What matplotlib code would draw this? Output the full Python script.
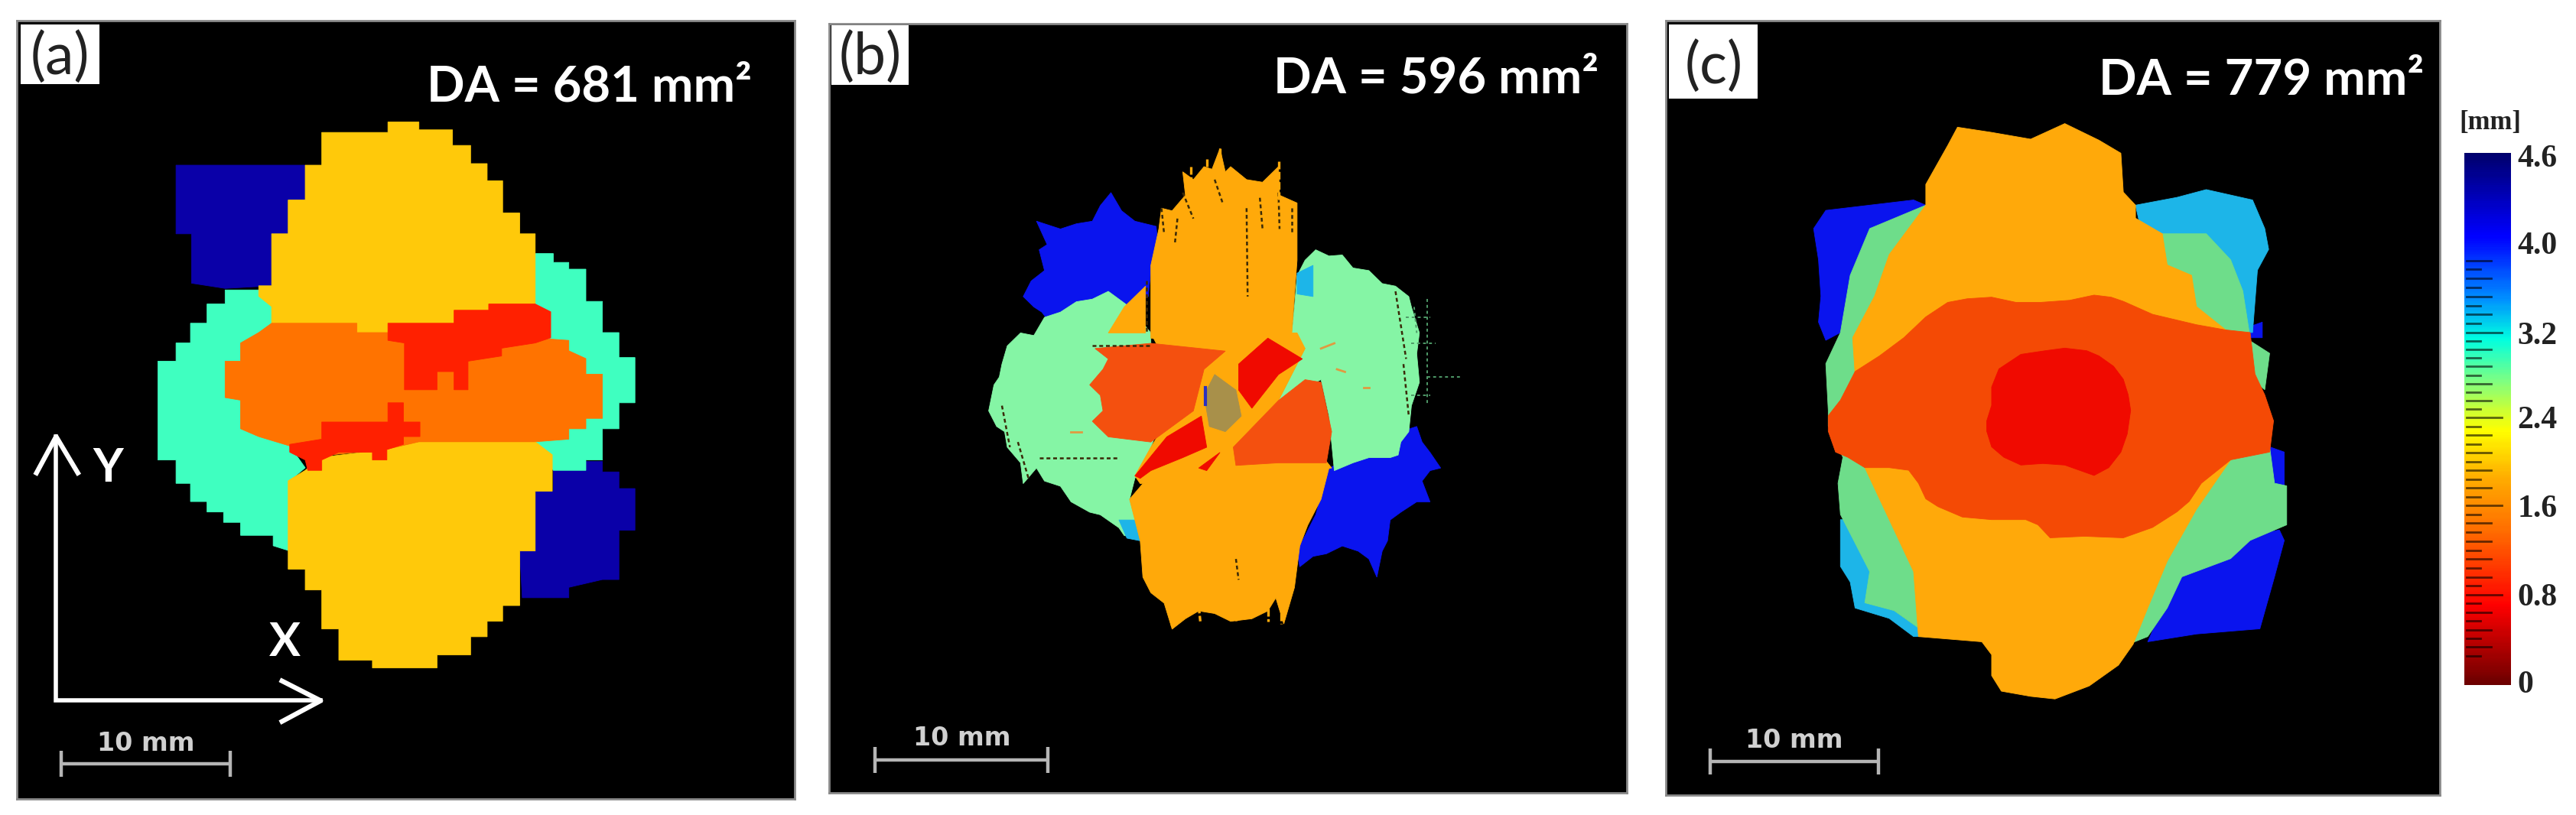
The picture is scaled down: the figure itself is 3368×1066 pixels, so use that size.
import numpy as np
import matplotlib
matplotlib.use('Agg')
import matplotlib.pyplot as plt
from matplotlib.colors import LinearSegmentedColormap

W, H = 3368, 1066

YELLOW = '#ffc90a'
MINT = '#3fffc0'
NAVY = '#0a00a8'
ORANGE_A = '#ff7300'
RED_A = '#ff2000'
ORANGE = '#ffa90a'
GREEN_B = '#85f5a5'
BLUE = '#0a14ee'
ORANGE_RED = '#f4500f'
RED = '#f00a00'
CYAN = '#1db5e8'
GREEN_C = '#6edd8a'

# panel (a)
a_blue_top = [(340, 318), (590, 318), (590, 385), (557, 385), (557, 450), (525, 450), (525, 550), (435, 555),
              (370, 545), (370, 450), (340, 450)]
a_blue_bot = [(1070, 905), (1133, 905), (1133, 888), (1165, 888), (1165, 908), (1197, 908), (1197, 940), (1228, 940),
              (1228, 1020), (1197, 1020), (1197, 1115), (1165, 1115), (1100, 1130), (1100, 1150), (1010, 1150),
              (1005, 1060), (1035, 1060), (1035, 945), (1070, 945)]
a_mint_left = [(435, 558), (505, 558), (525, 590), (560, 640), (560, 858), (590, 900), (560, 925), (560, 1060),
               (528, 1050), (528, 1030), (465, 1030), (465, 1005), (432, 1005), (432, 985), (400, 985), (400, 965),
               (368, 965), (368, 930), (340, 930), (340, 885), (305, 885), (305, 695), (340, 695), (340, 660),
               (368, 660), (368, 622), (400, 622), (400, 585), (435, 585)]
a_mint_right = [(1035, 488), (1070, 488), (1070, 505), (1100, 505), (1100, 518), (1133, 518), (1133, 580), (1165, 580),
                (1165, 640), (1197, 640), (1197, 688), (1228, 688), (1228, 775), (1197, 775), (1197, 825), (1165, 825),
                (1165, 885), (1133, 885), (1133, 905), (1070, 905), (1035, 850), (1000, 600)]
a_yellow_top = [(750, 235), (810, 235), (810, 250), (875, 250), (875, 280), (910, 280), (910, 315), (942, 315),
                (942, 348), (972, 348), (972, 410), (1005, 410), (1005, 450), (1035, 450), (1035, 620), (750, 660),
                (690, 640), (525, 640), (525, 590), (500, 570), (500, 550), (525, 550), (525, 450), (557, 450),
                (557, 385), (590, 385), (590, 318), (622, 318), (622, 255), (750, 255)]
a_yellow_bot = [(590, 905), (620, 880), (745, 865), (810, 850), (1035, 850), (1068, 875), (1068, 945), (1035, 945),
                (1035, 1060), (1005, 1060), (1005, 1165), (972, 1165), (972, 1195), (942, 1195), (942, 1225),
                (910, 1225), (910, 1260), (845, 1260), (845, 1285), (720, 1285), (720, 1270), (655, 1270), (655, 1210),
                (622, 1210), (622, 1135), (590, 1135), (590, 1095), (557, 1095), (557, 925)]
a_orange = [(525, 622), (690, 622), (690, 640), (880, 640), (1100, 655), (1100, 675), (1133, 690), (1133, 720),
            (1165, 720), (1165, 805), (1133, 805), (1133, 825), (1100, 825), (1100, 845), (1035, 850), (810, 850),
            (745, 865), (590, 880), (560, 858), (500, 840), (465, 825), (465, 770), (435, 765), (435, 695), (465, 695),
            (465, 660), (500, 640)]
a_red_top = [(750, 622), (878, 622), (878, 597), (945, 597), (945, 585), (1035, 585), (1065, 600), (1065, 650),
             (1035, 660), (970, 670), (970, 685), (905, 695), (905, 750), (878, 750), (878, 715), (845, 715),
             (845, 750), (782, 750), (782, 660), (750, 655)]
a_red_bot = [(750, 775), (780, 775), (780, 812), (812, 812), (812, 840), (780, 840), (780, 855), (748, 865), (748, 885),
             (720, 885), (720, 870), (655, 870), (622, 885), (622, 905), (595, 905), (590, 885), (560, 870), (560, 855),
             (622, 845), (622, 812), (750, 812)]

# panel (b)
b_blue_top = [(400, 570), (415, 540), (440, 520), (430, 480), (445, 470), (425, 425), (470, 440), (500, 430), (530, 425),
              (545, 395), (565, 370), (585, 405), (610, 425), (650, 435), (655, 490), (640, 520), (635, 570), (600, 590),
              (540, 590), (480, 600), (465, 615), (450, 620), (435, 600), (420, 590)]
b_blue_bot = [(1110, 830), (1140, 820), (1150, 850), (1165, 870), (1185, 900), (1165, 905), (1150, 925), (1165, 965),
              (1140, 965), (1110, 985), (1090, 1000), (1085, 1040), (1075, 1060), (1065, 1110), (1050, 1075), (1030, 1060),
              (1000, 1050), (970, 1065), (945, 1070), (920, 1090), (915, 1060), (950, 990), (975, 900), (1020, 880), (1090, 880)]
b_mint_left = [(335, 790), (345, 740), (355, 725), (360, 700), (370, 665), (395, 640), (420, 645), (440, 610), (470, 600),
               (500, 580), (530, 575), (560, 560), (600, 590), (640, 640), (640, 660), (700, 700), (640, 860), (610, 920),
               (600, 960), (620, 1035), (590, 1030), (580, 1015), (545, 990), (525, 985), (490, 965), (470, 935), (440, 925),
               (425, 900), (400, 930), (395, 890), (370, 860), (365, 830), (350, 820)]
b_mint_right = [(915, 530), (930, 500), (950, 480), (975, 492), (1000, 490), (1020, 515), (1050, 520), (1075, 545),
                (1100, 550), (1125, 570), (1130, 590), (1145, 640), (1140, 680), (1145, 735), (1130, 780), (1125, 830),
                (1110, 850), (1105, 875), (1090, 880), (1050, 880), (1020, 890), (985, 905), (975, 800), (960, 730),
                (880, 770), (930, 670), (905, 640), (910, 590)]
b_cyan_top = [(915, 525), (945, 510), (945, 570), (915, 565)]
b_cyan_bot = [(580, 1000), (620, 1000), (620, 1040), (595, 1035)]
b_orange_core = [(640, 640), (915, 640), (930, 670), (880, 770), (980, 900), (620, 930), (610, 915), (640, 860), (700, 760)]
b_orange_top = [(700, 330), (720, 345), (740, 320), (755, 325), (770, 285), (780, 330), (790, 320), (820, 345), (850, 350),
                (880, 320), (882, 375), (915, 390), (915, 500), (905, 640), (870, 665), (780, 675), (640, 650), (640, 510),
                (655, 440), (660, 400), (680, 405), (705, 375)]
b_orange_side = [(560, 640), (590, 590), (630, 550), (630, 640)]
b_orange_bot = [(625, 930), (750, 900), (880, 890), (975, 900), (960, 960), (935, 1010), (920, 1050), (910, 1130), (890, 1200),
                (875, 1150), (860, 1175), (830, 1190), (790, 1195), (760, 1180), (730, 1175), (705, 1190), (680, 1210),
                (665, 1160), (640, 1140), (625, 1110), (620, 1040), (600, 960)]
b_orangered_left = [(535, 670), (640, 660), (780, 675), (740, 710), (720, 790), (640, 850), (560, 840), (530, 810), (550, 790),
                    (545, 760), (525, 740), (550, 710), (560, 690)]
b_orangered_right = [(795, 860), (880, 770), (930, 730), (960, 735), (980, 830), (970, 890), (880, 890), (800, 895)]
b_red_top = [(805, 700), (860, 650), (925, 690), (880, 720), (830, 785), (805, 750)]
b_red_bot = [(610, 915), (670, 840), (735, 800), (745, 860), (700, 880), (640, 905), (620, 920)]
b_red_small = [(730, 900), (770, 870), (745, 905)]
b_center = [(740, 760), (760, 720), (800, 750), (810, 800), (780, 830), (750, 820)]
b_dark_streaks = [((660, 400), (665, 450)), ((690, 420), (685, 470)), ((820, 400), (822, 570)), ((845, 380), (850, 440)),
                  ((880, 370), (882, 440)), ((905, 400), (905, 450)), ((632, 540), (632, 640)), ((530, 665), (640, 665)),
                  ((430, 880), (580, 880)), ((800, 1075), (805, 1115)), ((360, 780), (375, 860)), ((390, 850), (410, 920)),
                  ((1100, 560), (1120, 690)), ((1115, 700), (1125, 800)), ((700, 370), (720, 420)), ((760, 345), (775, 390))]
b_orange_streaks = [((770, 285), (770, 340)), ((745, 305), (745, 345)), ((715, 320), (715, 370)), ((880, 310), (880, 390)),
                    ((680, 1150), (680, 1208)), ((885, 1120), (885, 1200)), ((655, 1110), (660, 1150)), ((730, 1165), (733, 1195)),
                    ((800, 1180), (800, 1198)), ((860, 1170), (860, 1195))]
b_mint_streaks = [((1160, 575), (1160, 780)), ((1160, 725), (1225, 725)), ((1135, 590), (1140, 640)), ((1130, 660), (1175, 660)),
                  ((1130, 760), (1165, 760)), ((1120, 610), (1165, 610))]
b_orange_flecks = [((490, 830), (510, 830)), ((990, 710), (1005, 715)), ((1040, 745), (1050, 745)), ((960, 670), (985, 660))]

# panel (c)
c_blue_top = [(315, 440), (340, 405), (430, 395), (520, 385), (545, 395), (430, 440), (390, 530), (370, 640), (340, 655),
              (325, 620), (330, 570), (325, 500)]
c_blue_right1 = [(1205, 630), (1235, 620), (1235, 650), (1205, 650)]
c_blue_right2 = [(1250, 860), (1280, 870), (1280, 935), (1250, 935)]
c_blue_bot = [(1270, 1020), (1280, 1040), (1260, 1110), (1230, 1210), (1100, 1220), (1000, 1235), (1040, 1150), (1070, 1100),
              (1170, 1060), (1210, 1030)]
c_cyan_top = [(975, 395), (1060, 380), (1120, 365), (1215, 385), (1240, 440), (1248, 480), (1225, 520), (1215, 640), (1100, 640),
              (1000, 500)]
c_cyan_bot = [(370, 1000), (450, 1000), (450, 1160), (480, 1175), (555, 1225), (520, 1225), (470, 1190), (400, 1170),
              (390, 1120), (370, 1090)]
c_green_left = [(430, 440), (545, 395), (560, 400), (470, 600), (450, 720), (345, 820), (345, 790), (340, 700), (370, 640),
                (390, 530)]
c_green_top = [(1030, 450), (1120, 450), (1170, 500), (1195, 560), (1210, 650), (1100, 650), (1000, 500)]
c_green_small = [(1200, 650), (1250, 680), (1240, 750), (1200, 720)]
c_green_low = [(345, 820), (450, 850), (560, 1100), (560, 1200), (555, 1225), (480, 1175), (420, 1160), (430, 1100),
               (370, 990), (365, 930), (375, 880)]
c_green_bot = [(1150, 860), (1250, 860), (1260, 930), (1285, 935), (1285, 1010), (1210, 1040), (1170, 1075), (1070, 1110),
               (1040, 1170), (1000, 1225), (960, 1240), (1000, 1000)]
c_orange_top = [(610, 245), (680, 255), (760, 268), (830, 238), (900, 270), (945, 295), (950, 370), (975, 395), (975, 420),
                (1030, 450), (1040, 510), (1090, 530), (1100, 590), (1160, 635), (1000, 640), (800, 620), (500, 670),
                (400, 720), (395, 650), (440, 570), (470, 490), (545, 395), (545, 355), (590, 280)]
c_orange_bot = [(420, 900), (510, 880), (800, 950), (1170, 885), (1100, 980), (1040, 1080), (1000, 1170),
                (970, 1240), (940, 1280), (880, 1320), (810, 1345), (760, 1340), (700, 1330), (680, 1300), (680, 1260),
                (660, 1235), (530, 1225), (520, 1100)]
c_orangered = [(345, 800), (370, 770), (400, 715), (450, 685), (500, 650), (545, 610), (590, 582), (630, 575), (680, 572),
               (730, 582), (780, 582), (840, 578), (890, 568), (925, 572), (950, 580), (1010, 605), (1100, 625), (1160, 635),
               (1210, 640), (1220, 720), (1240, 760), (1258, 810), (1250, 870), (1170, 885), (1110, 930), (1085, 965),
               (1060, 985), (1010, 1015), (950, 1035), (870, 1032), (800, 1035), (775, 1010), (750, 1000), (680, 1000),
               (620, 995), (570, 975), (545, 960), (530, 930), (510, 905), (470, 900), (420, 900), (385, 880), (360, 870), (345, 830)]
c_red = [(680, 745), (695, 710), (740, 682), (790, 675), (830, 670), (875, 675), (900, 685), (930, 705), (950, 730), (960, 760),
         (965, 790), (958, 835), (945, 870), (920, 900), (890, 915), (860, 905), (830, 895), (785, 892), (740, 895), (705, 880),
         (680, 860), (670, 830), (670, 810), (680, 780)]

# colorbar
cbar_ticks = [0, 0.8, 1.6, 2.4, 3.2, 4.0, 4.6]
cbar_labels = ['0', '0.8', '1.6', '2.4', '3.2', '4.0', '4.6']
cbar_tick_rows = [892, 778, 661, 546, 435, 317, 204]
cbar_stop_values = [-0.03, 0.7, 1.35, 1.87, 2.28, 2.74, 3.14, 3.5, 4.05, 4.63]
cbar_stop_colors = ['#6b0000', '#ff0000', '#ff6a00', '#ffb000', '#ffff00', '#80ff80', '#00ffe0', '#0090ff', '#0000ff', '#00006b']

plt.rcParams['font.family'] = ['Lato', 'DejaVu Sans']


def make_axes(fig, left, top, right, bottom):
    return fig.add_axes([left / W, 1 - bottom / H, (right - left) / W, (bottom - top) / H])


def make_panel(fig, rect, xlim, ylim):
    ax = make_axes(fig, *rect)
    ax.set_facecolor('black')
    ax.set_xlim(xlim)
    ax.set_ylim(ylim)
    ax.set_xticks([])
    ax.set_yticks([])
    for spine in ax.spines.values():
        spine.set_color('#8a8a8a')
        spine.set_linewidth(2)
    return ax


def fill_poly(ax, points, color):
    xs, ys = zip(*points)
    ax.fill(xs, ys, color=color, lw=0.6)


def draw_segments(ax, segments, color, lw, dashes):
    for seg in segments:
        ax.plot(*zip(*seg), color=color, lw=lw, ls=dashes)


def decorate(ax, label, box, label_xy, da, da_xy, bar):
    x0, y0, x1, y1 = box
    ax.fill([x0, x1, x1, x0], [y0, y0, y1, y1], color='white', lw=0, zorder=5)
    ax.text(label_xy[0], label_xy[1], label, color='#222222', fontsize=54, ha='center', va='center', zorder=6)
    ax.text(da_xy[0], da_xy[1], da, color='white', fontsize=47, fontweight='bold', ha='left', va='baseline', zorder=6)
    bx0, bx1, by, ty = bar
    ax.plot([bx0, bx1], [by, by], color='#b5b5b5', lw=3.2, solid_capstyle='butt', zorder=6)
    for bx in (bx0, bx1):
        ax.plot([bx, bx], [by - 25, by + 25], color='#b5b5b5', lw=3.2, solid_capstyle='butt', zorder=6)
    ax.text((bx0 + bx1) / 2, ty, '10 mm', color='#d0d0d0', fontsize=24, fontweight='bold', family='DejaVu Sans',
            ha='center', va='center', zorder=6)


fig = plt.figure(figsize=(W / 100, H / 100), dpi=100, facecolor='white')

# (a)
ax = make_panel(fig, (22, 27, 1039, 1045), (32, 1537), (1537, 40))
for poly, color in [(a_blue_top, NAVY), (a_blue_bot, NAVY), (a_mint_left, MINT), (a_mint_right, MINT),
                    (a_yellow_top, YELLOW), (a_yellow_bot, YELLOW), (a_orange, ORANGE_A),
                    (a_red_top, RED_A), (a_red_bot, RED_A)]:
    fill_poly(ax, poly, color)
decorate(ax, '(a)', (40, 48, 192, 162), (116, 110), 'DA = 681 mm\u00b2', (825, 195), (118, 445, 1470, 1430))
ax.plot([108, 108, 620], [840, 1348, 1348], color='white', lw=4, solid_joinstyle='miter')
ax.plot([70, 108, 150], [910, 840, 910], color='white', lw=4.5)
ax.plot([545, 620, 545], [1310, 1348, 1388], color='white', lw=4.5)
ax.text(208, 900, 'Y', color='white', fontsize=44, fontweight='bold', ha='center', va='center')
ax.text(550, 1235, 'X', color='white', fontsize=44, fontweight='bold', ha='center', va='center')

# (b)
ax = make_panel(fig, (1084, 31, 2127, 1037), (35, 1535), (1525, 45))
for poly, color in [(b_blue_top, BLUE), (b_blue_bot, BLUE), (b_mint_left, GREEN_B), (b_mint_right, GREEN_B),
                    (b_cyan_top, CYAN), (b_cyan_bot, CYAN), (b_orange_core, ORANGE), (b_orange_top, ORANGE),
                    (b_orange_side, ORANGE), (b_orange_bot, ORANGE), (b_orangered_left, ORANGE_RED),
                    (b_orangered_right, ORANGE_RED), (b_red_top, RED), (b_red_bot, RED), (b_red_small, RED),
                    (b_center, '#a8904a')]:
    fill_poly(ax, poly, color)
draw_segments(ax, b_dark_streaks, '#3a2a08', 1.8, (0, (2, 1.5)))
draw_segments(ax, b_orange_streaks, ORANGE, 2.4, (0, (3, 1)))
draw_segments(ax, b_mint_streaks, '#4f9a68', 1.4, (0, (2, 2)))
draw_segments(ax, b_orange_flecks, '#e09a40', 2, '-')
ax.plot([743, 743], [745, 778], color='#2a30c0', lw=3)
decorate(ax, '(b)', (40, 48, 185, 162), (112, 110), 'DA = 596 mm\u00b2', (870, 178), (122, 447, 1462, 1420))

# (c)
ax = make_panel(fig, (2178, 27, 3190, 1040), (12, 1599), (1530, 40))
for poly, color in [(c_blue_top, BLUE), (c_blue_right1, BLUE), (c_blue_right2, BLUE), (c_blue_bot, BLUE),
                    (c_cyan_top, CYAN), (c_cyan_bot, CYAN), (c_green_left, GREEN_C), (c_green_top, GREEN_C),
                    (c_green_small, GREEN_C), (c_green_low, GREEN_C), (c_green_bot, GREEN_C),
                    (c_orange_top, ORANGE), (c_orange_bot, ORANGE), (c_orangered, '#f44a05'), (c_red, RED)]:
    fill_poly(ax, poly, color)
decorate(ax, '(c)', (18, 48, 200, 190), (110, 128), 'DA = 779 mm\u00b2', (900, 182), (103, 448, 1465, 1425))

# colorbar, row positions are not quite linear in the value
cax = make_axes(fig, 3222, 200, 3283, 896)
scale_values = np.array([-0.03] + cbar_ticks + [4.63])
scale_rows = -np.array([896] + cbar_tick_rows + [200], dtype=float)


def to_row(v):
    return np.interp(v, scale_values, scale_rows)


def from_row(r):
    return np.interp(r, scale_rows, scale_values)


cmap = LinearSegmentedColormap.from_list(
    'depth', [((v + 0.03) / 4.66, c) for v, c in zip(cbar_stop_values, cbar_stop_colors)])
edges = np.linspace(-0.03, 4.63, 301)
cax.set_yscale('function', functions=(to_row, from_row))
cax.pcolormesh([0, 1], edges, (edges[:-1] + edges[1:]).reshape(-1, 1) / 2, cmap=cmap, vmin=-0.03, vmax=4.63)
cax.set_xlim(0, 1)
cax.set_ylim(-0.03, 4.63)
cax.set_xticks([])
cax.yaxis.tick_right()
cax.set_yticks(cbar_ticks)
cax.set_yticklabels(cbar_labels, family='Liberation Serif', fontweight='bold', fontsize=30, color='#222222')
cax.minorticks_off()
cax.tick_params(axis='y', length=0, pad=6)
for spine in cax.spines.values():
    spine.set_visible(False)
for k in range(3, 49):
    if k % 10 == 0:
        length = 0.75
    elif k % 2 == 1:
        length = 0.3
    else:
        length = 0.52
    cax.plot([0.05, 0.05 + length], [k * 0.08, k * 0.08], color='black', alpha=0.6, lw=2)

fig.text(3256 / W, 1 - 161 / H, '[mm]', family='Liberation Serif', fontweight='bold', fontsize=25, color='#222222',
         ha='center', va='center')

fig.savefig('out.png', dpi=100)
